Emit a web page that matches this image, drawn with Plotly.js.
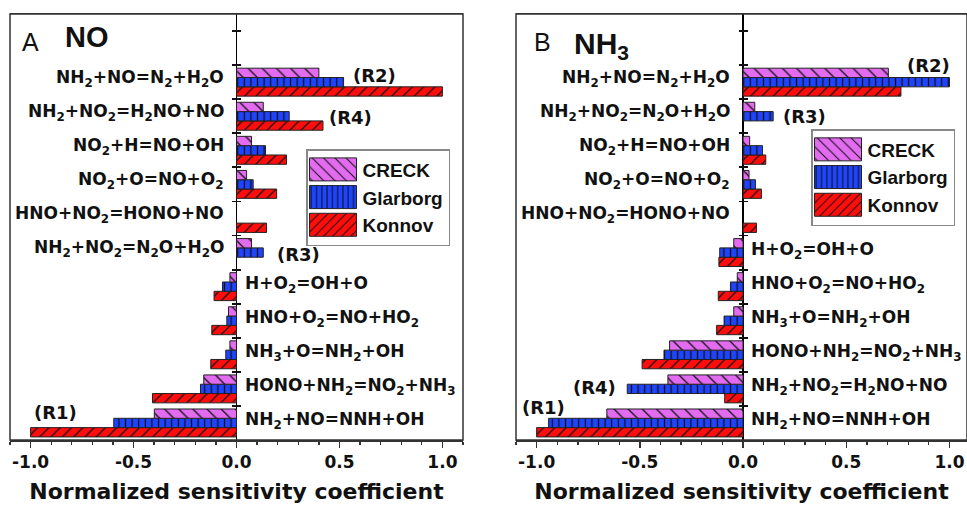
<!DOCTYPE html>
<html><head><meta charset="utf-8">
<script src="https://cdn.plot.ly/plotly-3.0.1.min.js"></script>
<style>body{margin:0;background:#fff}#chart{width:967px;height:508px}</style>
</head><body><div id="chart"></div>
<script>
// ---------- data ----------
const seriesNames = ['CRECK', 'Glarborg', 'Konnov'];

const catsA = [
  'NH<sub>2</sub>+NO=N<sub>2</sub>+H<sub>2</sub>O',
  'NH<sub>2</sub>+NO<sub>2</sub>=H<sub>2</sub>NO+NO',
  'NO<sub>2</sub>+H=NO+OH',
  'NO<sub>2</sub>+O=NO+O<sub>2</sub>',
  'HNO+NO<sub>2</sub>=HONO+NO',
  'NH<sub>2</sub>+NO<sub>2</sub>=N<sub>2</sub>O+H<sub>2</sub>O',
  'H+O<sub>2</sub>=OH+O',
  'HNO+O<sub>2</sub>=NO+HO<sub>2</sub>',
  'NH<sub>3</sub>+O=NH<sub>2</sub>+OH',
  'HONO+NH<sub>2</sub>=NO<sub>2</sub>+NH<sub>3</sub>',
  'NH<sub>2</sub>+NO=NNH+OH'
];
const creckA    = [0.40, 0.13, 0.073, 0.049, null, 0.073, -0.032, -0.039, -0.032, -0.159, -0.399];
const glarborgA = [0.52, 0.256, 0.141, 0.081, null, 0.13, -0.068, -0.047, -0.052, -0.175, -0.596];
const konnovA   = [1.00, 0.42, 0.243, 0.195, 0.146, null, -0.109, -0.12, -0.125, -0.408, -1.0];

const catsB = [
  'NH<sub>2</sub>+NO=N<sub>2</sub>+H<sub>2</sub>O',
  'NH<sub>2</sub>+NO<sub>2</sub>=N<sub>2</sub>O+H<sub>2</sub>O',
  'NO<sub>2</sub>+H=NO+OH',
  'NO<sub>2</sub>+O=NO+O<sub>2</sub>',
  'HNO+NO<sub>2</sub>=HONO+NO',
  'H+O<sub>2</sub>=OH+O',
  'HNO+O<sub>2</sub>=NO+HO<sub>2</sub>',
  'NH<sub>3</sub>+O=NH<sub>2</sub>+OH',
  'HONO+NH<sub>2</sub>=NO<sub>2</sub>+NH<sub>3</sub>',
  'NH<sub>2</sub>+NO<sub>2</sub>=H<sub>2</sub>NO+NO',
  'NH<sub>2</sub>+NO=NNH+OH'
];
const creckB    = [0.704, 0.057, 0.032, 0.029, null, -0.045, -0.028, -0.045, -0.356, -0.364, -0.66];
const glarborgB = [1.0, 0.146, 0.094, 0.06, null, -0.113, -0.061, -0.092, -0.383, -0.561, -0.942];
const konnovB   = [0.765, null, 0.11, 0.089, 0.065, -0.117, -0.12, -0.128, -0.489, -0.089, -1.0];

const tickVals = [-1, -0.5, 0, 0.5, 1];
const tickText = ['-1.0', '-0.5', '0.0', '0.5', '1.0'];
const axisTitle = 'Normalized sensitivity coefficient';

// ---------- styling ----------
const FONT = 'DejaVu Sans';
const colors = {CRECK: '#E26BF0', Glarborg: '#1F44FF', Konnov: '#FF0D0D'};
const patterns = {
  CRECK:    {shape: '\\', size: 10, solidity: 0.13},
  Glarborg: {shape: '|',  size: 6.6, solidity: 0.2},
  Konnov:   {shape: '/',  size: 8, solidity: 0.15}
};
const W = 967;
const dA = [10 / W, 463 / W];
const dB = [516 / W, 1];
const rangeA = [-1.1, 1.1];
const rangeB = [-1.1, 1.085];
const yRange = [-0.5, 12];

// row position of each category: first listed = top row
const rowPos = cats => cats.map((c, i) => cats.length - 1 - i);

function bar(name, vals, cats, xa, ya, legend) {
  return {
    type: 'bar', orientation: 'h', name: name, x: vals, y: rowPos(cats),
    text: cats, hovertemplate: '%{text}: %{x}<extra>' + name + '</extra>', textposition: 'none',
    xaxis: xa, yaxis: ya, legend: legend, showlegend: true,
    marker: {
      color: colors[name],
      line: {color: '#222', width: 1},
      pattern: Object.assign({fgcolor: '#111', bgcolor: colors[name], fillmode: 'replace'}, patterns[name])
    }
  };
}

const data = [
  bar('Konnov', konnovA, catsA, 'x', 'y', 'legend'),
  bar('Glarborg', glarborgA, catsA, 'x', 'y', 'legend'),
  bar('CRECK', creckA, catsA, 'x', 'y', 'legend'),
  bar('Konnov', konnovB, catsB, 'x2', 'y2', 'legend2'),
  bar('Glarborg', glarborgB, catsB, 'x2', 'y2', 'legend2'),
  bar('CRECK', creckB, catsB, 'x2', 'y2', 'legend2')
];

function xAxis(domain, range, anchor) {
  return {
    domain: domain, range: range, anchor: anchor,
    showline: true, mirror: true, linecolor: '#333', linewidth: 1.5,
    ticks: 'outside', ticklen: 6, tickwidth: 1.5, tickcolor: '#333',
    tickmode: 'array', tickvals: tickVals, ticktext: tickText,
    minor: {tickmode: 'linear', tick0: 0, dtick: 0.1, ticks: 'outside', ticklen: 3.5, tickwidth: 1.3, tickcolor: '#333', showgrid: false},
    showgrid: false, zeroline: true, zerolinecolor: '#000', zerolinewidth: 1.8,
    tickfont: {family: FONT, size: 17, color: '#111', weight: 700},
    title: {text: axisTitle, font: {family: FONT, size: 22, color: '#111', weight: 700}, standoff: 12}
  };
}
// y axis sits on the zero line; its ticks are shifted half a tick length so they cross the line
const TL = 9;
function yAxis(pos, n) {
  return {
    domain: [0, 1], anchor: 'free', position: pos + (TL / 2) / W,
    range: yRange, tickmode: 'array', tickvals: Array.from({length: n + 1}, (_, i) => i + 0.5),
    ticks: 'outside', ticklen: TL, tickwidth: 1.8, tickcolor: '#111',
    showticklabels: false, showgrid: false, zeroline: false, showline: false
  };
}
const posA = dA[0] + (0 - rangeA[0]) / (rangeA[1] - rangeA[0]) * (dA[1] - dA[0]);
const posB = dB[0] + (0 - rangeB[0]) / (rangeB[1] - rangeB[0]) * (dB[1] - dB[0]);

// category label annotations (opposite side of the bars)
function catLabels(cats, series, xref, yref) {
  const rows = rowPos(cats);
  return cats.map((c, i) => {
    const v = series.map(s => s[i]).find(t => t !== null);
    const pos = v > 0;
    return {
      text: c, x: 0, y: rows[i], xref: xref, yref: yref, showarrow: false,
      xanchor: pos ? 'right' : 'left', yanchor: 'middle',
      xshift: pos ? -11 : 6, yshift: pos ? 4 : 2,
      font: {family: FONT, size: 17, color: '#111', weight: 700}
    };
  });
}
function rLabel(text, x, cats, cat, xref, yref, xanchor, yshift) {
  return {text: text, x: x, y: rowPos(cats)[cats.indexOf(cat)], xref: xref, yref: yref, showarrow: false,
    xanchor: xanchor, yanchor: 'middle', yshift: yshift,
    font: {family: FONT, size: 18, color: '#111', weight: 700}};
}
function frame(xref, yref) {
  return {type: 'rect', xref: xref + ' domain', yref: yref + ' domain', x0: 0, x1: 1, y0: 0, y1: 1,
    line: {color: '#333', width: 1.5}, fillcolor: 'rgba(0,0,0,0)', layer: 'above'};
}
const annotations = []
  .concat(catLabels(catsA, [creckA, glarborgA, konnovA], 'x', 'y'))
  .concat(catLabels(catsB, [creckB, glarborgB, konnovB], 'x2', 'y2'))
  .concat([
    rLabel('(R2)', 0.555, catsA, catsA[0], 'x', 'y', 'left', 7),
    rLabel('(R4)', 0.44, catsA, catsA[1], 'x', 'y', 'left', -1),
    rLabel('(R3)', 0.185, catsA, catsA[5], 'x', 'y', 'left', -2),
    rLabel('(R1)', -0.88, catsA, catsA[10], 'x', 'y', 'center', 10),
    rLabel('(R2)', 0.785, catsB, catsB[0], 'x2', 'y2', 'left', 17),
    rLabel('(R3)', 0.185, catsB, catsB[1], 'x2', 'y2', 'left', 0),
    rLabel('(R4)', -0.605, catsB, catsB[9], 'x2', 'y2', 'right', 1),
    rLabel('(R1)', -0.967, catsB, catsB[10], 'x2', 'y2', 'center', 15),
    {text: 'A', xref: 'x domain', yref: 'y domain', x: 0.022, y: 0.934, xanchor: 'left', yanchor: 'middle', showarrow: false,
     font: {family: 'Liberation Sans', size: 25, color: '#111'}},
    {text: 'NO', xref: 'x domain', yref: 'y domain', x: 0.117, y: 0.946, xanchor: 'left', yanchor: 'middle', showarrow: false,
     font: {family: 'Liberation Sans', size: 29, color: '#111', weight: 700}},
    {text: 'B', xref: 'x2 domain', yref: 'y2 domain', x: 0.035, y: 0.934, xanchor: 'left', yanchor: 'middle', showarrow: false,
     font: {family: 'Liberation Sans', size: 25, color: '#111'}},
    {text: 'NH<sub>3</sub>', xref: 'x2 domain', yref: 'y2 domain', x: 0.124, y: 0.927, xanchor: 'left', yanchor: 'middle', showarrow: false,
     font: {family: 'Liberation Sans', size: 30, color: '#111', weight: 700}}
  ]);

function legendCfg(x, y) {
  return {x: x, y: y, xref: 'paper', yref: 'paper', xanchor: 'left', yanchor: 'top',
    bordercolor: '#888', borderwidth: 1.5, bgcolor: '#fff', traceorder: 'reversed',
    itemwidth: 45, tracegroupgap: 0,
    font: {family: 'Liberation Sans', size: 19, color: '#111', weight: 700}};
}

const layout = {
  width: 967, height: 508,
  margin: {l: 0, r: 0, t: 14, b: 68},
  paper_bgcolor: '#fff', plot_bgcolor: '#fff',
  barmode: 'group', bargap: 0.18, bargroupgap: 0,
  xaxis: xAxis(dA, rangeA, 'y'),
  yaxis: yAxis(posA, catsA.length),
  xaxis2: xAxis(dB, rangeB, 'y2'),
  yaxis2: yAxis(posB, catsB.length),
  legend: legendCfg(306 / W, 0.683),
  legend2: legendCfg(811 / W, 0.730),
  annotations: annotations,
  shapes: [frame('x', 'y'), frame('x2', 'y2')],
  showlegend: true
};

// enlarge the legend swatches so they fill the space before the text (as in the original figure)
const SW = 23.5, SH = 11.5;
function enlargeSwatches() {
  const gd = document.getElementById('chart');
  gd.querySelectorAll('g.traces').forEach(tr => {
    const txt = tr.querySelector('text');
    const pts = tr.querySelectorAll('.legendpoints path');
    if (!txt || !pts.length) return;
    const tl = txt.getBoundingClientRect().left;
    pts.forEach(p => {
      const r = p.getBoundingClientRect();
      const bb = p.getBBox();
      const cx = (r.left + r.right) / 2;
      const lc = bb.x + bb.width / 2;
      const nc = lc + (tl - 6 - SW) - cx;
      p.setAttribute('d', `M${nc + SW},${SH}H${nc - SW}V${-SH}H${nc + SW}Z`);
    });
  });
}

Plotly.newPlot('chart', data, layout, {displayModeBar: false, staticPlot: true}).then(() => {
  enlargeSwatches();
  setTimeout(enlargeSwatches, 30);
});
</script>
</body></html>
